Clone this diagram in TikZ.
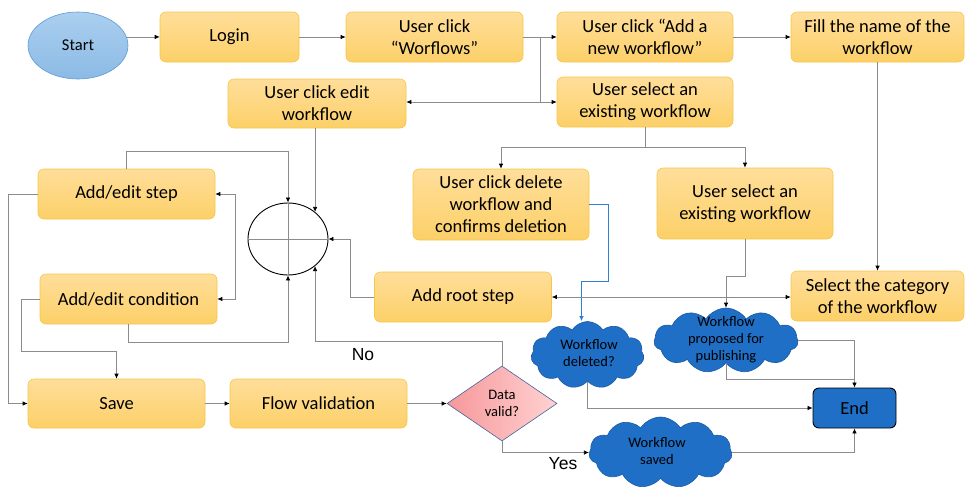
\documentclass[tikz,border=0pt]{standalone}
\usepackage{fontspec}
\setmainfont{Carlito}
\newfontfamily\yesnofont{Liberation Sans}
\usetikzlibrary{shapes.geometric,shapes.symbols,arrows.meta,calc}

\definecolor{boxtop}{HTML}{FFDE9A}
\definecolor{boxbot}{HTML}{FCD068}
\definecolor{boxedge}{HTML}{F4C748}
\definecolor{linegray}{HTML}{8C8C8C}
\definecolor{cloudblue}{HTML}{1F6FC6}
\definecolor{cloudedge}{HTML}{1A5AA4}
\definecolor{starttop}{HTML}{AACFEF}
\definecolor{startbot}{HTML}{8CBAE5}
\definecolor{startedge}{HTML}{5B9BD5}
\definecolor{diaL}{HTML}{F6989A}
\definecolor{diaR}{HTML}{FFD2D2}
\definecolor{diaedge}{HTML}{41649F}
\definecolor{deleteblue}{HTML}{2F7FD3}

\begin{document}
\begin{tikzpicture}[x=1pt,y=-1pt,
  box/.style={rectangle, rounded corners=6pt, top color=boxtop, bottom color=boxbot,
    draw=boxedge, line width=0.6pt, align=center, inner sep=0pt,
    font=\fontsize{18.5}{22}\selectfont},
  cloudbox/.style={cloud, cloud puffs=11, cloud puff arc=115, draw=cloudedge,
    fill=cloudblue, line width=0.6pt, inner sep=0pt},
  cloudtxt/.style={align=center, inner sep=0pt, font=\fontsize{14.5}{17}\selectfont},
  conn/.style={draw=linegray, line width=0.7pt},
  arr/.style={-{Latex[length=5pt,width=4.5pt,black]}},
  arrboth/.style={{Latex[length=5pt,width=4.5pt,black]}-{Latex[length=5pt,width=4.5pt,black]}},
  yesno/.style={inner sep=0pt, font=\yesnofont\fontsize{17.5}{20}\selectfont},
]
\useasboundingbox (0,0) rectangle (965,490);

% ---- nodes ----
\node[ellipse, minimum width=100pt, minimum height=67pt, inner sep=0pt,
  top color=starttop, bottom color=startbot, draw=startedge, line width=0.6pt,
  font=\fontsize{16.5}{19}\selectfont] (start) at (78,45.5) {Start};
\node[box, minimum width=139pt, minimum height=50pt] (login) at (229.5,37) {Login};
\node[box, minimum width=177pt, minimum height=50pt] (wf) at (434.5,37) {User click\\“Worflows”};
\node[box, minimum width=176pt, minimum height=50pt] (addnew) at (645,37) {User click “Add a\\new workflow”};
\node[box, minimum width=173pt, minimum height=50pt] (fill) at (877.5,37) {Fill the name of the\\workflow};
\node[box, minimum width=178pt, minimum height=49pt] (edit) at (317,103.5) {User click edit\\workflow};
\node[box, minimum width=176pt, minimum height=50pt] (selA) at (645,102) {User select an\\existing workflow};

\node[box, minimum width=177pt, minimum height=50pt] (step) at (126.5,194) {Add/edit step};
\node[box, minimum width=177pt, minimum height=50pt] (cond) at (128.5,299) {Add/edit condition};
\node[ellipse, minimum width=80pt, minimum height=72pt, inner sep=0pt,
  draw=black, line width=0.9pt] (circ) at (288,239) {};

\node[box, minimum width=176pt, minimum height=71pt] (del) at (501,204.5) {User click delete\\workflow and\\confirms deletion};
\node[box, minimum width=176pt, minimum height=71pt] (selB) at (745,203.5) {User select an\\existing workflow};
\node[box, minimum width=177pt, minimum height=50pt] (root) at (463,297) {Add root step};
\node[box, minimum width=173pt, minimum height=50pt] (cat) at (877.5,296) {Select the category\\of the workflow};

\node[box, minimum width=177pt, minimum height=49pt] (save) at (116.5,403.5) {Save};
\node[box, minimum width=177pt, minimum height=49pt] (flow) at (318.5,403.5) {Flow validation};
\node[diamond, minimum width=110pt, minimum height=75pt, inner sep=0pt,
  left color=diaL, right color=diaR, draw=diaedge, line width=0.6pt,
  align=center, font=\fontsize{14.5}{17}\selectfont] (valid) at (502,403.5) {Data\\valid?};

\node[cloudbox, minimum width=113pt, minimum height=67pt] (cdel) at (587.5,355) {};
\node[cloudtxt] (cdeltxt) at (589,353) {Workflow\\deleted?};
\node[cloudbox, minimum width=144pt, minimum height=65pt] (cpub) at (726,340.5) {};
\node[cloudtxt] (cpubtxt) at (726,340) {Workflow\\proposed for\\publishing};
\node[cloudbox, minimum width=143pt, minimum height=71pt] (csave) at (660.5,452.5) {};
\node[cloudtxt] (csavetxt) at (657,451) {Workflow\\saved};

\node[rectangle, rounded corners=6pt, minimum width=83pt, minimum height=40pt,
  fill=cloudblue, draw=black, line width=0.9pt, inner sep=0pt,
  font=\fontsize{18.5}{22}\selectfont] (endn) at (854.5,408) {End};

\node[yesno] (no) at (363,355) {No};
\node[yesno] (yes) at (563,464) {Yes};

% ---- cross inside the junction circle ----
\draw[conn] (circ.west) -- (circ.east);
\draw[conn] (circ.north) -- (circ.south);

% ---- top row ----
\draw[conn,arr] (start.10) -- (start.10 -| login.west);
\draw[conn,arr] (login) -- (wf);
\draw[conn,arr] (wf) -- (addnew);
\draw[conn,arr] (addnew) -- (fill);
\coordinate (j1) at ($(wf.east)!0.5!(addnew.west)$);
\coordinate (j2) at (j1 |- selA.west);
\draw[conn] (j1) -- (j2);
\draw[conn,arr] (j2) -- (selA.west);
\draw[conn,arr] (j2) -- (j2 -| edit.east);
\draw[conn,arr] (fill.south) -- (cat.north);

% ---- existing workflow branch ----
\coordinate (j3) at ([yshift=-20pt]selA.south);
\draw[conn] (selA.south) -- (j3);
\draw[conn,arr] (j3) -| (del.north);
\draw[conn,arr] (j3) -| (selB.north);
\draw[conn,arr] (selB.south) -- ++(0,37) -| (cpub.north);
\draw[deleteblue, line width=1.3pt, -{Latex[length=5pt,width=4.5pt]}]
  (del.east) -- ++(19,0) -- ++(0,77) -| ([xshift=-6pt]cdel.north);
\draw[conn,arrboth] (root.east) -- (root.east -| cat.west);

% ---- edit loop around the junction ----
\draw[conn,arr] (edit.south -| circ.45) -- (circ.45);
\draw[conn,arr] (step.north) -- ++(0,-17) -| (circ.north);
\draw[conn,arrboth] (step.east) -- ++(20,0) |- (cond.east);
\draw[conn,arr] (cond.south) -- ++(0,18) -| (circ.south);
\draw[conn,arr] (root.west) -- ++(-24,0) |- (circ.east);
\draw[conn,arr] (valid.north) -- ++(0,-24) -| (circ.-45);

% ---- save and validation ----
\draw[conn,arr] (step.west) -- ++(-29,0) |- (save.west);
\draw[conn,arr] (cond.west) -- ++(-18,0) |- ([yshift=27pt]save.north) -- (save.north);
\draw[conn,arr] (save) -- (flow);
\draw[conn,arr] (flow) -- (valid);
\draw[conn,arr] (valid.south) |- (csave.west);

% ---- to the end ----
\draw[conn,arr] (cpub.east) -| (endn.north);
\draw[conn] (cpub.south) |- ([yshift=8pt]endn.north);
\draw[conn,arr] (cdel.south) |- (endn.west);
\draw[conn,arr] (csave.east) -| (endn.south);
\end{tikzpicture}
\end{document}
